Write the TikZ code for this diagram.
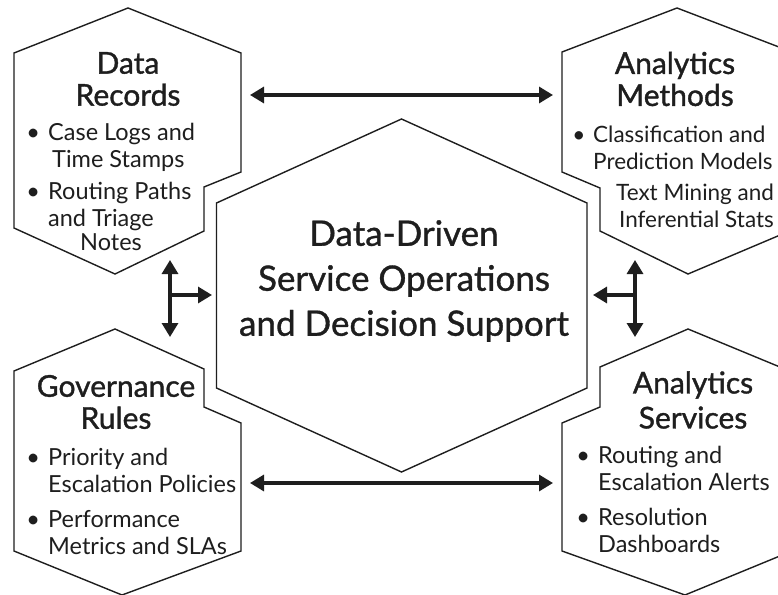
\documentclass[tikz,border=0pt]{standalone}
\usepackage{fontspec}
\setmainfont{Lato}
\newfontfamily\hexfont[FakeBold=1.2]{Lato}
\newfontfamily\corefont[FakeBold=1.0]{Lato}
\usetikzlibrary{arrows.meta}
\definecolor{ink}{HTML}{1E1E1E}
\newcommand\hexbul{\llap{\textbullet\hspace{0.35em}}}
\begin{document}
\begin{tikzpicture}[x=1pt,y=-1pt,
  hexline/.style={draw=ink, line width=1.4pt, line join=miter, fill=white},
  conn/.style={draw=ink, line width=3.2pt, {Triangle[length=14pt,width=16pt]}-{Triangle[length=14pt,width=16pt]}},
  conn1/.style={draw=ink, line width=3.2pt, -{Triangle[length=14pt,width=16pt]}},
  title/.style={font=\hexfont\fontsize{30}{32}\selectfont, text=ink, align=center, inner sep=0pt},
  body/.style={font=\fontsize{23.5}{27}\selectfont, text=ink, align=left, inner sep=0pt, anchor=base west},
  narrowbody/.style={body, font=\fontsize{22.5}{27}\selectfont},
  centertext/.style={font=\corefont\fontsize{35}{45}\selectfont, text=ink, align=center, inner sep=0pt}]
\useasboundingbox (0,0) rectangle (778,594);
\clip (0,0) rectangle (778,594);
\fill[white] (0,0) rectangle (778,594);
% hexagons
\path[hexline] (128,8) -- (241,53) -- (241,172) -- (204,187) -- (204,231) -- (115,274) -- (14,228) -- (14,53) -- cycle;
\path[hexline] (677,8) -- (792,52) -- (792,230) -- (688,274) -- (600,231) -- (600,188) -- (562,172) -- (562,52) -- cycle;
\path[hexline] (115,329) -- (204,369) -- (204,407) -- (241,423) -- (241,551) -- (122,595) -- (14,551) -- (14,371) -- cycle;
\path[hexline] (688,329) -- (600,367) -- (600,407) -- (562,423) -- (562,551) -- (685,595) -- (792,551) -- (792,372) -- cycle;
\path[hexline] (401.5,119) -- (587,203) -- (587,388) -- (401.5,472) -- (216.5,388) -- (216.5,203) -- cycle;
% titles
\node[title] (drT) at (128,79) {Data\\Records};
\node[title] (amT) at (675,79) {Analytics\\Methods};
\node[title] (grT) at (116,402) {Governance\\Rules};
\node[title] (asT) at (693,400) {Analytics\\[3pt]Services};
\node[centertext] (core) at (404,281) {Data-Driven\\Service Operations\\and Decision Support};
% bodies (anchor = baseline of last line)
\node[body] (dr1) at (48,167) {\hexbul Case Logs and\\\hspace*{4pt}Time Stamps};
\node[body] (dr2) at (48,250) {\hexbul Routing Paths\\and Triage\\[-3pt]\hspace*{32pt}Notes};
\node[narrowbody] (am1) at (593,169) {\hexbul Classification and\\Prediction Models};
\node[narrowbody] (am2) at (616,227) {Text Mining and\\\hspace*{3pt}Inferential Stats};
\node[body] (gr1) at (48,492) {\hexbul Priority and\\Escalation Policies};
\node[body] (gr2) at (48,554) {\hexbul Performance\\Metrics and SLAs};
\node[body] (as1) at (598,490) {\hexbul Routing and\\Escalation Alerts};
\node[body] (as2) at (598,552) {\hexbul Resolution\\Dashboards};
% connectors
\coordinate (tL) at (250,95); \coordinate (tR) at (553,95);
\coordinate (bL) at (250,483); \coordinate (bR) at (553,483);
\coordinate (lT) at (170,260); \coordinate (lB) at (170,337);
\coordinate (lM) at (170,295); \coordinate (lE) at (212,295);
\coordinate (rT) at (635,260); \coordinate (rB) at (635,337);
\coordinate (rM) at (635,295); \coordinate (rE) at (593,295);
\draw[conn] (tL) -- (tR);
\draw[conn] (bL) -- (bR);
\draw[conn] (lT) -- (lB);
\draw[conn1] (lM) -- (lE);
\draw[conn] (rT) -- (rB);
\draw[conn1] (rM) -- (rE);
\end{tikzpicture}
\end{document}
